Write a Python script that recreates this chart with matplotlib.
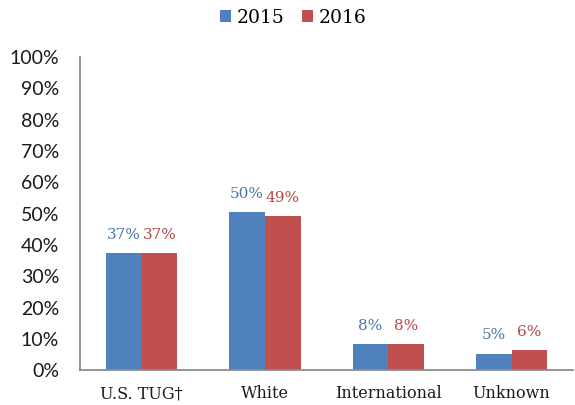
import numpy as np
import matplotlib
matplotlib.use("Agg")
import matplotlib.pyplot as plt
from matplotlib.ticker import FuncFormatter

categories = ["U.S. TUG\u2020", "White", "International", "Unknown"]
vals_2015 = [37.3, 50.4, 8.2, 5.3]
vals_2016 = [37.3, 49.2, 8.2, 6.3]
labels_2015 = ["37%", "50%", "8%", "5%"]
labels_2016 = ["37%", "49%", "8%", "6%"]
series_names = ["2015", "2016"]

blue = "#4F81BD"
red = "#C0504D"
serif = ["DejaVu Serif"]

fig = plt.figure(figsize=(5.75, 4.05), dpi=100)
ax = fig.add_axes([0.139, 0.086, 0.858, 0.773])

x = np.arange(len(categories))
w = 0.29
b1 = ax.bar(x - w / 2, vals_2015, w, color=blue, label=series_names[0])
b2 = ax.bar(x + w / 2, vals_2016, w, color=red, label=series_names[1])

# data labels above each bar
for bars, labs, col in ((b1, labels_2015, "#4A74AA"), (b2, labels_2016, "#B04A47")):
    for r, t in zip(bars, labs):
        ax.annotate(t, (r.get_x() + r.get_width() / 2, r.get_height()),
                    xytext=(0, 8), textcoords="offset points",
                    ha="center", va="bottom", fontsize=11, color=col, family=serif)

ax.set_xlim(-0.5, len(categories) - 0.5)
ax.set_ylim(0, 100)
ax.set_yticks(np.arange(0, 101, 10))
ax.yaxis.set_major_formatter(FuncFormatter(lambda v, p: f"{v:.0f}%"))
ax.set_xticks(x)
ax.set_xticklabels(categories, family=serif, fontsize=11.5)
for lab in ax.get_yticklabels():
    lab.set_family(["Lato", "DejaVu Sans"])
    lab.set_fontsize(14)
ax.tick_params(axis="y", length=0, pad=15, colors="#1a1a1a")
ax.tick_params(axis="x", length=0, pad=11, colors="#1a1a1a")

for s in ("top", "right"):
    ax.spines[s].set_visible(False)
for s in ("left", "bottom"):
    ax.spines[s].set_color("#8C8C8C")
    ax.spines[s].set_linewidth(1.3)

leg = fig.legend(loc="upper center", bbox_to_anchor=(0.51, 1.02), ncol=2, frameon=False,
                 handlelength=0.6, handleheight=0.6, handletextpad=0.3, columnspacing=0.9,
                 prop={"family": serif, "size": 13.5})

fig.savefig("out.png", dpi=100)
